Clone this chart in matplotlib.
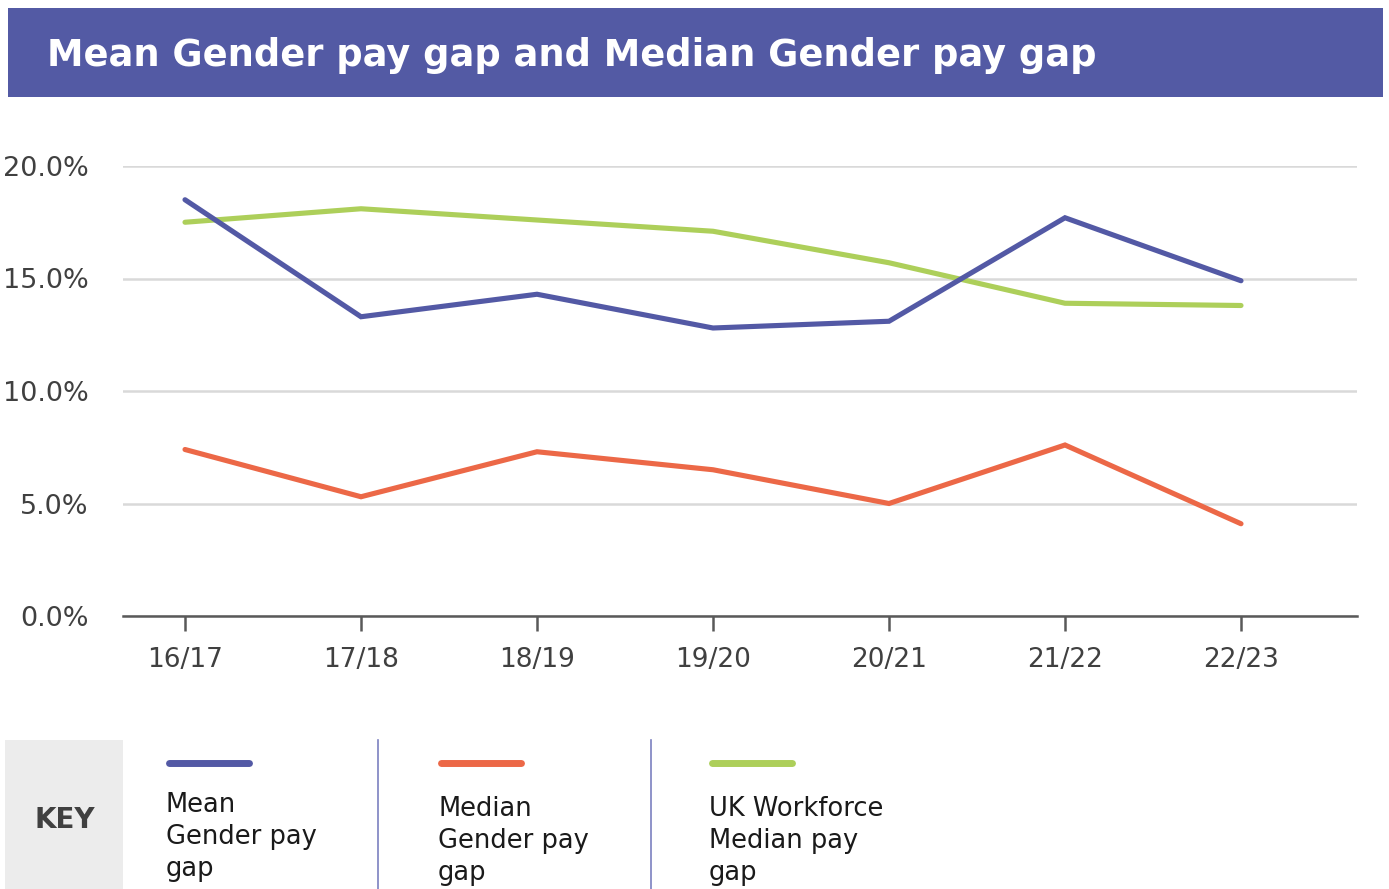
import matplotlib
matplotlib.use("Agg")
import matplotlib.pyplot as plt
from matplotlib.patches import Rectangle
from matplotlib.lines import Line2D

# ---- data ----
years = ["16/17", "17/18", "18/19", "19/20", "20/21", "21/22", "22/23"]
mean_gap = [18.5, 13.3, 14.3, 12.8, 13.1, 17.7, 14.9]
median_gap = [7.4, 5.3, 7.3, 6.5, 5.0, 7.6, 4.1]
uk_median_gap = [17.5, 18.1, 17.6, 17.1, 15.7, 13.9, 13.8]
series_labels = ["Mean\nGender pay\ngap", "Median\nGender pay\ngap", "UK Workforce\nMedian pay\ngap"]
y_ticks = [0, 5, 10, 15, 20]
title = "Mean Gender pay gap and Median Gender pay gap"

BLUE = "#5359a5"
ORANGE = "#ec6847"
GREEN = "#adcf5a"
FONT = "DejaVu Sans"

W, H = 1389, 889
fig = plt.figure(figsize=(W / 100, H / 100), dpi=100)
fig.patch.set_facecolor("white")

def fx(px):
    return px / W

def fy(py):
    return 1 - py / H

# title bar
fig.patches.append(Rectangle((fx(8), fy(97)), fx(1375), (97 - 8) / H,
                             transform=fig.transFigure, facecolor="#535aa4",
                             edgecolor="none", zorder=0))
fig.text(fx(47), fy(56), title, color="white", fontsize=26.5, fontweight="bold",
         family=FONT, va="center", ha="left")

# main axes
left, right, top, bottom = 123, 1357, 166, 616
ax = fig.add_axes([fx(left), fy(bottom), (right - left) / W, (bottom - top) / H])
x = list(range(len(years)))
ax.set_xlim(-62 / 176, 6 + 116 / 176)
ax.set_ylim(0, 20)

ax.plot(x, mean_gap, color=BLUE, lw=3.7, solid_capstyle="round", solid_joinstyle="miter", zorder=3, clip_on=False)
ax.plot(x, median_gap, color=ORANGE, lw=3.7, solid_capstyle="round", solid_joinstyle="miter", zorder=3, clip_on=False)
ax.plot(x, uk_median_gap, color=GREEN, lw=3.7, solid_capstyle="round", solid_joinstyle="miter", zorder=2, clip_on=False)

ax.set_yticks(y_ticks)
ax.set_yticklabels([f"{v:.1f}%" for v in y_ticks])
ax.set_xticks(x)
ax.set_xticklabels(years)
for s in ["top", "right", "left"]:
    ax.spines[s].set_visible(False)
ax.spines["bottom"].set_color("#595959")
ax.spines["bottom"].set_linewidth(1.8)
ax.spines["bottom"].set_zorder(4)
ax.grid(axis="y", color="#d9d9d9", lw=1.8, zorder=1)
ax.set_axisbelow(True)
ax.tick_params(axis="y", length=0, pad=25, labelsize=19.5, labelcolor="#404040")
ax.tick_params(axis="x", length=11, width=1.8, color="#595959", pad=11,
               labelsize=19, labelcolor="#404040")
for lab in ax.get_xticklabels() + ax.get_yticklabels():
    lab.set_family(FONT)

# key / legend
fig.patches.append(Rectangle((fx(5), fy(889)), fx(118), (889 - 740) / H,
                             transform=fig.transFigure, facecolor="#ececec",
                             edgecolor="none", zorder=0))
fig.text(fx(65), fy(820), "KEY", fontsize=20, fontweight="bold", color="#404040",
         family=FONT, ha="center", va="center")

for xd in [378, 651]:
    fig.add_artist(Line2D([fx(xd), fx(xd)], [fy(740), fy(889)], transform=fig.transFigure,
                          color="#7c80c0", lw=1.2))

key_x = [166, 438, 709]
key_text_y = [792, 796, 796]
colors = [BLUE, ORANGE, GREEN]
for kx, ky, c, lab in zip(key_x, key_text_y, colors, series_labels):
    fig.add_artist(Line2D([fx(kx + 3), fx(kx + 83)], [fy(763), fy(763)], transform=fig.transFigure,
                          color=c, lw=5, solid_capstyle="round"))
    fig.text(fx(kx), fy(ky), lab, fontsize=18.5, color="#1a1a1a", family=FONT,
             ha="left", va="top", linespacing=1.3)

fig.savefig("out.png", dpi=100)
